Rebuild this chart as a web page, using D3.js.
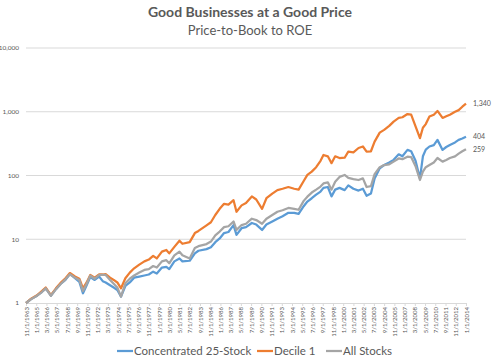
<!DOCTYPE html>
<html>
<head>
<meta charset="utf-8">
<script src="https://cdn.jsdelivr.net/npm/d3@7"></script>
<style>
  body { margin: 0; background: #fff; }
  text { font-family: Lato, "Open Sans", sans-serif; fill: #595959; }
</style>
</head>
<body>
<div id="container"></div>
<script>
// Series values (growth of $1)
let dates = ["1963-11","1964-06","1965-02","1965-09","1966-02","1966-09","1967-04","1967-10","1968-05","1968-11",
  "1969-06","1969-12","1970-05","1970-10","1971-03","1971-09","1972-03","1972-08","1972-12","1973-06",
  "1973-11","1974-04","1974-09","1975-03","1975-09","1976-03","1976-10","1977-05","1977-11","1978-05",
  "1978-10","1979-05","1979-11","1980-03","1980-10","1981-05","1981-09","1982-07","1983-02","1983-07",
  "1984-06","1984-12","1985-06","1985-12","1986-06","1986-12","1987-07","1987-11","1988-06","1988-12",
  "1989-08","1990-02","1990-10","1991-04","1991-12","1992-07","1993-02","1993-10","1994-06","1994-12",
  "1995-07","1995-12","1996-06","1996-12","1997-06","1997-10","1998-04","1998-09","1999-02","1999-08",
  "2000-03","2000-08","2001-03","2001-10","2002-04","2002-09","2003-03","2003-08","2004-03","2004-09",
  "2005-04","2005-10","2006-05","2006-10","2007-05","2007-10","2008-04","2008-10","2009-02","2009-06",
  "2009-11","2010-05","2010-10","2011-05","2011-10","2012-03","2012-10","2013-03","2013-08","2014-01"];

let concentrated = [1,1.15,1.30,1.50,1.70,1.30,1.65,1.97,2.30,2.85,
  2.45,2.15,1.42,1.90,2.55,2.30,2.60,2.20,2.10,1.90,
  1.75,1.60,1.26,1.85,2.10,2.50,2.60,2.70,2.80,3.10,
  2.90,3.60,3.70,3.40,4.50,5.00,4.50,4.60,6.00,6.60,
  7.00,7.50,9.00,10.3,12.5,13.0,16.7,11.7,14.9,15.5,
  18.0,17.0,14.0,17.0,19.0,21.0,23.0,26.0,26.0,25.0,
  33,39,44,50,56,64,66,47,60,64,
  59,70,62,58,62,48,52,90,130,146,
  160,176,215,200,252,240,170,90,200,255,
  285,300,362,252,280,302,330,362,380,404];

let decile1 = [1,1.17,1.32,1.55,1.75,1.33,1.70,2.05,2.45,2.95,
  2.60,2.40,1.70,2.10,2.75,2.50,2.80,2.80,2.85,2.50,
  2.30,2.10,1.70,2.44,3.00,3.50,4.00,4.50,4.80,5.50,
  5.00,6.40,6.80,6.00,7.60,9.50,8.50,9.00,12.5,13.5,
  16.5,18.5,24,30,36,35,41,27,34,37,
  47,42,30,44,52,59,62,66,62,60,
  82,102,115,135,170,210,200,156,200,188,
  190,237,230,270,285,237,240,340,470,520,
  600,700,800,820,920,900,590,385,560,640,
  840,900,1030,800,850,900,1000,1060,1200,1340];

let allStocks = [1,1.15,1.30,1.50,1.70,1.30,1.65,1.97,2.35,2.82,
  2.50,2.30,1.54,2.00,2.68,2.40,2.75,2.75,2.75,2.30,
  2.00,1.75,1.26,2.04,2.40,2.70,3.00,3.30,3.40,3.80,
  3.60,4.50,4.70,4.20,5.60,6.40,5.60,5.00,7.30,7.80,
  8.40,9.20,11.5,13.2,15.5,16.0,19.0,14.0,16.7,17.5,
  21,20,17.5,21,24,27,28.5,31,30,29,
  40,46.6,54,60,67,75,78,60,80,95,
  102,92,88,85,90,66,68,105,135,146,
  150,165,185,180,197,195,140,85,115,135,
  146,160,188,165,175,188,200,220,240,259];

let seriesNames = ["Concentrated 25-Stock", "Decile 1", "All Stocks"];
let seriesColors = ["#5B9BD5", "#ED7D31", "#A5A5A5"];
let endLabels = ["404", "1,340", "259"];

let yTicks = [1, 10, 100, 1000, 10000];
let xTickLabels = ["11/1/1963","1/1/1965","3/1/1966","5/1/1967","7/1/1968","9/1/1969","11/1/1970","1/1/1972",
  "3/1/1973","5/1/1974","7/1/1975","9/1/1976","11/1/1977","1/1/1979","3/1/1980","5/1/1981","7/1/1982",
  "9/1/1983","11/1/1984","1/1/1986","3/1/1987","5/1/1988","7/1/1989","9/1/1990","11/1/1991","1/1/1993",
  "3/1/1994","5/1/1995","7/1/1996","9/1/1997","11/1/1998","1/1/2000","3/1/2001","5/1/2002","7/1/2003",
  "9/1/2004","11/1/2005","1/1/2007","3/1/2008","5/1/2009","7/1/2010","9/1/2011","11/1/2012","1/1/2014"];

let chart_width = 500;
let chart_height = 362;
let plot_left = 26, plot_right = 466, plot_top = 48, plot_bottom = 303;

let parseMonth = d3.timeParse("%Y-%m");
let parseTick = d3.timeParse("%m/%d/%Y");

let svg = d3.select("#container")
  .append("svg")
  .attr("width", chart_width)
  .attr("height", chart_height);

let xScale = d3.scaleTime()
  .domain([parseTick(xTickLabels[0]), parseTick(xTickLabels[xTickLabels.length - 1])])
  .range([plot_left, plot_right]);

let yScale = d3.scaleLog()
  .domain([1, 10000])
  .range([plot_bottom, plot_top]);

// Gridlines
svg.append("g")
  .selectAll("line")
  .data(yTicks.slice(1))
  .enter()
  .append("line")
  .attr("x1", plot_left)
  .attr("x2", plot_right)
  .attr("y1", (d) => yScale(d))
  .attr("y2", (d) => yScale(d))
  .attr("stroke", "#d9d9d9")
  .attr("stroke-width", 1);

// Y axis labels
svg.append("g")
  .selectAll("text")
  .data(yTicks)
  .enter()
  .append("text")
  .attr("x", plot_left - 7)
  .attr("y", (d) => yScale(d))
  .attr("dy", "0.35em")
  .attr("text-anchor", "end")
  .style("font-size", "6.5px")
  .text((d) => d3.format(",")(d));

// X axis
let xAxis = d3.axisBottom(xScale)
  .tickValues(xTickLabels.map(parseTick))
  .tickSize(3)
  .tickFormat((d, i) => xTickLabels[i]);

let xg = svg.append("g")
  .attr("transform", "translate(0," + plot_bottom + ")")
  .call(xAxis);
xg.select(".domain").attr("stroke", "#d9d9d9");
xg.selectAll(".tick line").attr("stroke", "#d9d9d9");
xg.selectAll(".tick text")
  .attr("transform", "rotate(-90)")
  .attr("text-anchor", "end")
  .attr("x", -4)
  .attr("y", 0)
  .attr("dy", "0.35em")
  .style("font-family", "Lato, sans-serif")
  .style("font-size", "6px")
  .attr("fill", "#595959");

// Lines
let line = d3.line()
  .x((d) => xScale(d.date))
  .y((d) => yScale(d.value));

let allSeries = [concentrated, decile1, allStocks];
allSeries.forEach(function(values, k) {
  let points = dates.map((d, i) => ({date: parseMonth(d), value: values[i]}));
  svg.append("path")
    .datum(points)
    .attr("fill", "none")
    .attr("stroke", seriesColors[k])
    .attr("stroke-width", 2.25)
    .attr("stroke-linejoin", "round")
    .attr("d", line);
  svg.append("text")
    .attr("x", plot_right + 7)
    .attr("y", yScale(values[values.length - 1]))
    .attr("dy", "0.35em")
    .style("font-size", "7px")
    .text(endLabels[k]);
});

// Title
svg.append("text")
  .attr("x", chart_width / 2)
  .attr("y", 17)
  .attr("text-anchor", "middle")
  .style("font-size", "14px")
  .style("font-weight", "bold")
  .text("Good Businesses at a Good Price");

svg.append("text")
  .attr("x", chart_width / 2)
  .attr("y", 35)
  .attr("text-anchor", "middle")
  .style("font-size", "13px")
  .text("Price-to-Book to ROE");

// Legend
let legendX = [117, 257, 326];
let legend = svg.append("g");
seriesNames.forEach(function(name, k) {
  legend.append("line")
    .attr("x1", legendX[k])
    .attr("x2", legendX[k] + 16)
    .attr("y1", 351)
    .attr("y2", 351)
    .attr("stroke", seriesColors[k])
    .attr("stroke-width", 2.25);
  legend.append("text")
    .attr("x", legendX[k] + 17)
    .attr("y", 351)
    .attr("dy", "0.35em")
    .style("font-size", "11.5px")
    .text(name);
});
</script>
</body>
</html>
